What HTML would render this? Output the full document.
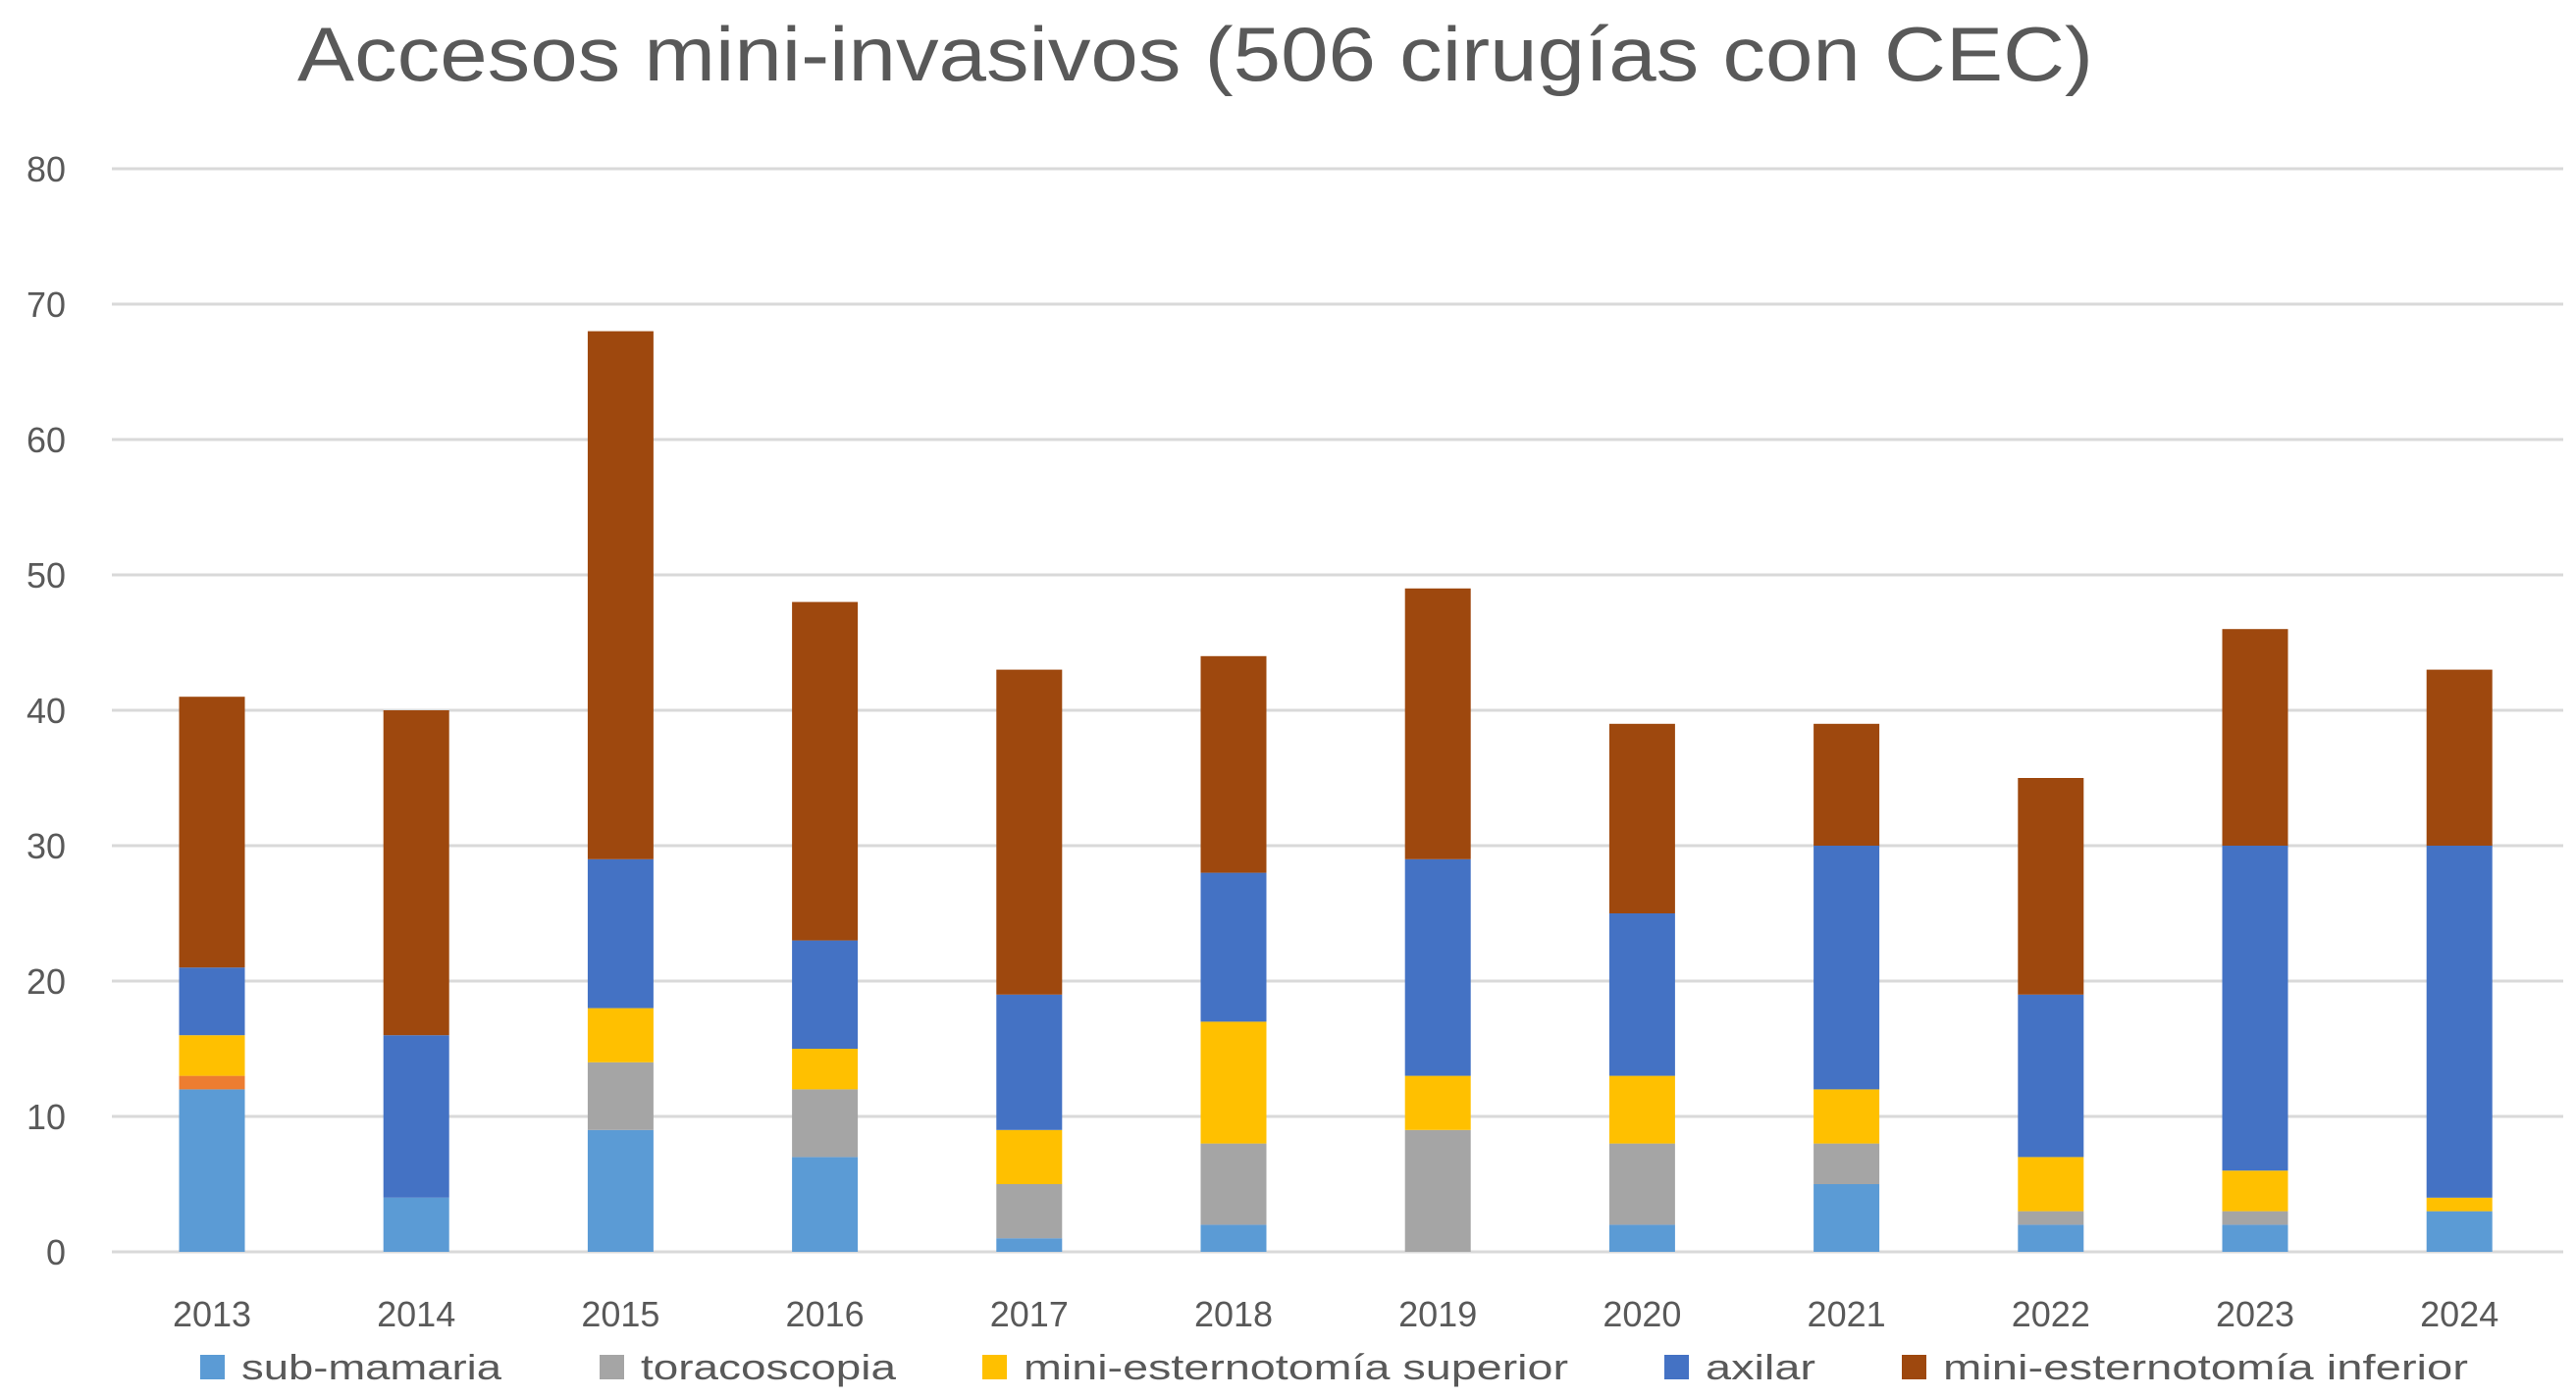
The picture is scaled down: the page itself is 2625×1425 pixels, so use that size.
<!DOCTYPE html>
<html><head><meta charset="utf-8"><style>
html,body{margin:0;padding:0;background:#fff;}
svg{display:block;font-family:"Liberation Sans",sans-serif;}
</style></head><body>
<svg id="chart" width="2625" height="1425" viewBox="0 0 2625 1425" xmlns="http://www.w3.org/2000/svg">
<rect width="2625" height="1425" fill="#fff"/>
<text x="1218" y="82" text-anchor="middle" font-size="78" fill="#595959" textLength="1830" lengthAdjust="spacingAndGlyphs">Accesos mini-invasivos (506 cirugías con CEC)</text>
<g id="grid"></g><g id="bars"></g><g id="xlabels"></g><g id="legend"></g>
</svg>
<script>
const years = ["2013","2014","2015","2016","2017","2018","2019","2020","2021","2022","2023","2024"];
const subMamaria = [12,4,9,7,1,2,0,2,5,2,2,3];
const toracoscopia = [0,0,5,5,4,6,9,6,3,1,1,0];
const otro = [1,0,0,0,0,0,0,0,0,0,0,0];
const miniSuperior = [3,0,4,3,4,9,4,5,4,4,3,1];
const axilar = [5,12,11,8,10,11,16,12,18,12,24,26];
const miniInferior = [20,24,39,25,24,16,20,14,9,16,16,13];
const yTicks = [0,10,20,30,40,50,60,70,80];

const NS="http://www.w3.org/2000/svg";
const y0=1276, pxPerUnit=13.8, x0=216, step=208.2, bw=67;
const yScale=v=>y0-v*pxPerUnit;
const xScale=i=>x0+i*step;
function mk(tag,attrs,parent){const e=document.createElementNS(NS,tag);for(const k in attrs)e.setAttribute(k,attrs[k]);parent.appendChild(e);return e;}
const grid=document.getElementById('grid');
yTicks.forEach(t=>{
  const l=mk('line',{x1:114,x2:2612,y1:yScale(t),y2:yScale(t),stroke:'#d9d9d9','stroke-width':3},grid);
  
  
  const tx=mk('text',{x:67,y:yScale(t)+13,'text-anchor':'end','font-size':36,fill:'#595959'},grid);
  tx.textContent=t;
  
  
});
const series=[
 {name:'sub-mamaria',data:subMamaria,color:'#5B9BD5'},
 {name:'toracoscopia',data:toracoscopia,color:'#A5A5A5'},
 {name:'otro',data:otro,color:'#ED7D31'},
 {name:'mini-esternotomía superior',data:miniSuperior,color:'#FFC000'},
 {name:'axilar',data:axilar,color:'#4472C4'},
 {name:'mini-esternotomía inferior',data:miniInferior,color:'#9E480E'}];
const bars=document.getElementById('bars');
years.forEach((yr,i)=>{
  let cum=0;
  series.forEach(s=>{
    const v=s.data[i];
    if(v>0){
      const r=mk('rect',{x:xScale(i)-bw/2,y:yScale(cum+v),width:bw,height:v*pxPerUnit,fill:s.color},bars);
      
      
    }
    cum+=v;
  });
  const t=mk('text',{x:xScale(i),y:1352,'text-anchor':'middle','font-size':36,fill:'#595959'},document.getElementById('xlabels'));
  t.textContent=yr;
  
  
});
const leg=document.getElementById('legend');
const legItems=[['sub-mamaria','#5B9BD5',204,1],['toracoscopia','#A5A5A5',611,1],['mini-esternotomía superior','#FFC000',1001,1],['axilar','#4472C4',1696,1],['mini-esternotomía inferior','#9E480E',1938,1]];
const legWidths=[265,260,555,112,535];
legItems.forEach((it,k)=>{
  const g=mk('g',{},leg);
  
  
  mk('rect',{x:it[2],y:1381,width:25,height:25,fill:it[1]},g);
  const t=mk('text',{x:it[2]+42,y:1406,'font-size':36,fill:'#595959',textLength:legWidths[k],lengthAdjust:'spacingAndGlyphs'},g);
  t.textContent=it[0];
});
</script>
</body></html>
